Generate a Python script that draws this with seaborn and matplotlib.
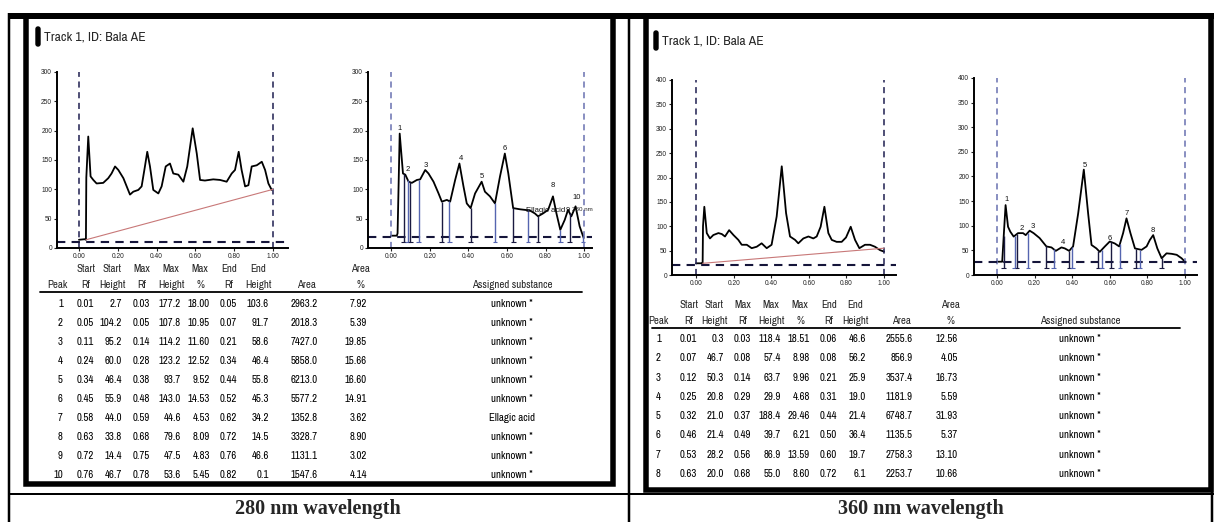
import numpy as np
import pandas as pd
import matplotlib
matplotlib.use("Agg")
import matplotlib.pyplot as plt
import matplotlib.font_manager as fm
from matplotlib.patches import Rectangle, FancyBboxPatch
import seaborn as sns

W, H = 1214, 522

# ---------------- 280 nm scans
rf_280_raw = [0.00, 0.03, 0.036, 0.038, 0.048, 0.06, 0.074, 0.091, 0.125, 0.151, 0.168, 0.186,
              0.203, 0.229, 0.246, 0.263, 0.280, 0.306, 0.323, 0.340, 0.352, 0.366, 0.383,
              0.409, 0.426, 0.447, 0.469, 0.486, 0.512, 0.538, 0.558, 0.586, 0.607, 0.624,
              0.649, 0.692, 0.727, 0.761, 0.787, 0.804, 0.823, 0.838, 0.856, 0.873, 0.890,
              0.916, 0.942, 0.959, 0.976, 0.993]
h_280_raw = [14, 15, 14, 120, 190, 122, 116, 110, 111, 119, 127, 139,
             133, 119, 105, 91, 96, 99, 105, 139, 164, 139, 99,
             93, 105, 139, 144, 127, 125, 113, 139, 204, 161, 116,
             115, 117, 116, 113, 127, 133, 164, 133, 105, 107, 139,
             141, 147, 133, 110, 99]

rf_280 = [0.00, 0.030, 0.034, 0.045, 0.062, 0.074, 0.091, 0.108, 0.134, 0.151, 0.177, 0.194,
          0.220, 0.246, 0.263, 0.289, 0.306, 0.332, 0.354, 0.375, 0.392, 0.412, 0.435,
          0.469, 0.486, 0.512, 0.538, 0.564, 0.589, 0.607, 0.632, 0.667, 0.718, 0.744,
          0.761, 0.787, 0.813, 0.838, 0.856, 0.876, 0.899, 0.916, 0.933, 0.955, 0.976, 0.997]
h_280 = [21, 21, 25, 195, 127, 125, 113, 111, 116, 117, 133, 127,
         113, 93, 79, 82, 79, 116, 144, 105, 76, 68, 93,
         113, 96, 88, 76, 122, 161, 127, 68, 66, 64, 59,
         54, 59, 65, 88, 59, 31, 48, 65, 54, 71, 37, 17]
drops_280 = [0.065, 0.086, 0.10, 0.143, 0.263, 0.302, 0.412, 0.538, 0.632, 0.709, 0.761,
             0.876, 0.924, 0.993]
labels_280 = ["1", "2", "3", "4", "5", "6", "Ellagic acid", "8", "9", "10"]
label_rf_280 = [0.045, 0.085, 0.18, 0.36, 0.47, 0.59, 0.80, 0.835, 0.915, 0.96]
label_h_280 = [198, 128, 135, 146, 116, 164, 58, 100, 58, 80]

# ---------------- 360 nm scans
rf_360_raw = [0.00, 0.030, 0.035, 0.037, 0.044, 0.057, 0.074, 0.092, 0.119, 0.137, 0.154,
              0.176, 0.199, 0.225, 0.243, 0.270, 0.296, 0.323, 0.349, 0.376, 0.402, 0.429,
              0.456, 0.479, 0.500, 0.527, 0.544, 0.571, 0.598, 0.624, 0.642, 0.663, 0.683,
              0.704, 0.722, 0.748, 0.775, 0.798, 0.823, 0.846, 0.869, 0.899, 0.926, 0.952,
              0.979, 1.00]
h_360_raw = [24, 24, 24, 100, 140, 86, 75, 82, 86, 84, 79,
             92, 82, 72, 62, 62, 55, 58, 65, 55, 62, 120,
             223, 127, 79, 72, 65, 75, 79, 75, 79, 99, 140,
             86, 72, 68, 68, 77, 99, 72, 55, 62, 62, 58,
             51, 48]

rf_360 = [0.00, 0.028, 0.037, 0.046, 0.059, 0.071, 0.089, 0.112, 0.139, 0.153, 0.174, 0.195,
          0.227, 0.263, 0.290, 0.313, 0.343, 0.361, 0.384, 0.405, 0.432, 0.462, 0.485,
          0.503, 0.529, 0.547, 0.574, 0.600, 0.627, 0.650, 0.671, 0.689, 0.710, 0.734,
          0.769, 0.796, 0.813, 0.831, 0.853, 0.876, 0.902, 0.929, 0.956, 0.982, 1.00]
h_360 = [27, 27, 85, 142, 98, 88, 78, 85, 85, 81, 90, 85,
         75, 58, 56, 49, 56, 54, 49, 58, 125, 214, 125,
         61, 54, 47, 58, 68, 64, 58, 85, 115, 85, 54,
         51, 58, 71, 81, 54, 34, 44, 43, 41, 34, 27]
drops_360 = [0.036, 0.094, 0.107, 0.165, 0.263, 0.302, 0.384, 0.401, 0.540, 0.558, 0.609,
             0.654, 0.739, 0.760, 0.876]
labels_360 = ["1", "2", "3", "4", "5", "6", "7", "8"]
label_rf_360 = [0.05, 0.13, 0.19, 0.35, 0.465, 0.60, 0.69, 0.83]
label_h_360 = [146, 88, 92, 58, 216, 68, 118, 84]

# ---------------- peak tables
peak_280 = list(range(1, 11))
start_rf_280 = [0.01, 0.05, 0.11, 0.24, 0.34, 0.45, 0.58, 0.63, 0.72, 0.76]
start_h_280 = [2.7, 104.2, 95.2, 60.0, 46.4, 55.9, 44.0, 33.8, 14.4, 46.7]
max_rf_280 = [0.03, 0.05, 0.14, 0.28, 0.38, 0.48, 0.59, 0.68, 0.75, 0.78]
max_h_280 = [177.2, 107.8, 114.2, 123.2, 93.7, 143.0, 44.6, 79.6, 47.5, 53.6]
max_pct_280 = [18.00, 10.95, 11.60, 12.52, 9.52, 14.53, 4.53, 8.09, 4.83, 5.45]
end_rf_280 = [0.05, 0.07, 0.21, 0.34, 0.44, 0.52, 0.62, 0.72, 0.76, 0.82]
end_h_280 = [103.6, 91.7, 58.6, 46.4, 55.8, 45.3, 34.2, 14.5, 46.6, 0.1]
area_280 = [2963.2, 2018.3, 7427.0, 5858.0, 6213.0, 5577.2, 1352.8, 3328.7, 1131.1, 1547.6]
area_pct_280 = [7.92, 5.39, 19.85, 15.66, 16.60, 14.91, 3.62, 8.90, 3.02, 4.14]
subst_280 = ["unknown *"] * 6 + ["Ellagic acid"] + ["unknown *"] * 3

peak_360 = list(range(1, 9))
start_rf_360 = [0.01, 0.07, 0.12, 0.25, 0.32, 0.46, 0.53, 0.63]
start_h_360 = [0.3, 46.7, 50.3, 20.8, 21.0, 21.4, 28.2, 20.0]
max_rf_360 = [0.03, 0.08, 0.14, 0.29, 0.37, 0.49, 0.56, 0.68]
max_h_360 = [118.4, 57.4, 63.7, 29.9, 188.4, 39.7, 86.9, 55.0]
max_pct_360 = [18.51, 8.98, 9.96, 4.68, 29.46, 6.21, 13.59, 8.60]
end_rf_360 = [0.06, 0.08, 0.21, 0.31, 0.44, 0.50, 0.60, 0.72]
end_h_360 = [46.6, 56.2, 25.9, 19.0, 21.4, 36.4, 19.7, 6.1]
area_360 = [2555.6, 856.9, 3537.4, 1181.9, 6748.7, 1135.5, 2758.3, 2253.7]
area_pct_360 = [12.56, 4.05, 16.73, 5.59, 31.93, 5.37, 13.10, 10.66]
subst_360 = ["unknown *"] * 8

head1 = ["", "Start", "Start", "Max", "Max", "Max", "End", "End", "", "Area", ""]
head2 = ["Peak", "Rf", "Height", "Rf", "Height", "%", "Rf", "Height", "Area", "%",
         "Assigned substance"]
fmts = ["{:d}", "{:.2f}", "{:.1f}", "{:.2f}", "{:.1f}", "{:.2f}", "{:.2f}", "{:.1f}",
        "{:.1f}", "{:.2f}", "{}"]

sns.set_theme(style="white")
plt.rcParams["font.family"] = ["Liberation Sans", "DejaVu Sans"]

# the scanner report uses a narrow sans; take one if the system has it
narrow_path = None
for f in fm.fontManager.ttflist:
    if (("Narrow" in f.name or "Condensed" in f.name) and "Mono" not in f.name
            and "Serif" not in f.name and f.style == "normal"
            and f.weight in (400, "normal", "regular", "book")):
        narrow_path = f.fname
        break
if narrow_path:
    tab_fp = fm.FontProperties(fname=narrow_path, size=7.8)
    title_fp = fm.FontProperties(fname=narrow_path, size=9.8)
else:
    tab_fp = fm.FontProperties(family="Liberation Sans", size=6.3)
    title_fp = fm.FontProperties(family="Liberation Sans", size=8)

fig = plt.figure(figsize=(W / 100, H / 100), dpi=100)
bg = fig.add_axes([0, 0, 1, 1])
bg.set_xlim(0, W)
bg.set_ylim(H, 0)
bg.axis("off")


def px_axes(x0, y0, x1, y1):
    return fig.add_axes([x0 / W, 1 - y1 / H, (x1 - x0) / W, (y1 - y0) / H])


def lw(px):
    return px * 0.72


def draw_scan(box, rf, h, ymax, x0, x1, hline, base=None, drops=None, floor=None,
              labels=None, vcolor="#2a2a60"):
    ax = px_axes(*box)
    sns.lineplot(x=rf, y=h, ax=ax, color="black", linewidth=1.3, sort=False, estimator=None)
    ax.vlines([0, 1], 0, ymax, colors=vcolor, linestyles=(0, (4, 3)), lw=1.1)
    ax.axhline(hline, color="#15153a", ls=(0, (4, 3)), lw=1.5)
    if base is not None:
        ax.plot(base[0], base[1], color="#c87878", lw=0.8)
    if drops is not None:
        tops = np.interp(drops, rf, h)
        cols = ["#1a1a40" if i % 2 == 0 else "#5565b0" for i in range(len(drops))]
        ax.vlines(drops, floor, tops, colors=cols, lw=1.0)
        ax.scatter(drops, [floor] * len(drops), marker="_", s=12, c=cols, lw=0.8)
    if labels is not None:
        for s, lx, ly in zip(*labels):
            ax.text(lx, ly, s, ha="center", va="bottom", fontsize=5.5, color="#111")
    ax.set_xlim(x0, x1)
    ax.set_ylim(0, ymax)
    ax.set_xticks(np.arange(0, 1.01, 0.2))
    ax.set_xticklabels([f"{t:.2f}" for t in np.arange(0, 1.01, 0.2)])
    ax.set_yticks(np.arange(0, ymax + 1, 50))
    ax.tick_params(labelsize=4.8, length=2, width=0.8, pad=1.5, colors="#222",
                   left=True, bottom=True)
    ax.set_xlabel("")
    ax.set_ylabel("")
    sns.despine(ax=ax)
    for side in ["left", "bottom"]:
        ax.spines[side].set_linewidth(1.4)
        ax.spines[side].set_color("black")
    ax.patch.set_alpha(0)
    return ax


def draw_table(df, hx, vx, y_h1, dy, y_row0, line_x):
    for i, c in enumerate(df.columns):
        bg.text(hx[i], y_h1, head1[i], ha="center", va="center", fontproperties=tab_fp)
        bg.text(hx[i], y_h1 + 16, head2[i], ha="center", va="center", fontproperties=tab_fp)
        for r, v in enumerate(df[c]):
            ha = "center" if i == len(df.columns) - 1 else "right"
            bg.text(vx[i], y_row0 + r * dy, fmts[i].format(v), ha=ha, va="center",
                    fontproperties=tab_fp, color="black")
    bg.plot(line_x, [y_h1 + 23] * 2, color="black", lw=lw(1.8))


# ---- outer table and panel frames
bg.plot([8, W], [16, 16], color="black", lw=lw(6), solid_capstyle="butt")
for x in [8.5, 628.5, 1212]:
    bg.plot([x, x], [13, H], color="black", lw=lw(2.5), solid_capstyle="butt")
bg.plot([8, W], [494, 494], color="black", lw=lw(2), solid_capstyle="butt")
bg.add_patch(Rectangle((25.5, 16), 587, 467.5, fill=False, lw=lw(5.5), ec="black",
                       joinstyle="miter"))
bg.add_patch(Rectangle((645.5, 16), 565, 474, fill=False, lw=lw(5.5), ec="black",
                       joinstyle="miter"))

bg.text(318, 509, "280 nm wavelength", ha="center", va="center", fontsize=14.5,
        family="Liberation Serif", weight="bold")
bg.text(921, 509, "360 nm wavelength", ha="center", va="center", fontsize=14.5,
        family="Liberation Serif", weight="bold")

# ---- track titles
for mx, my in [(36, 27), (654, 31)]:
    bg.add_patch(FancyBboxPatch((mx, my), 4, 19, boxstyle="round,pad=0,rounding_size=2",
                                fc="black", ec="black"))
    bg.text(mx + 8, my + 10, "Track 1, ID: Bala AE", ha="left", va="center",
            fontproperties=title_fp)

# ---- chromatograms
draw_scan((57, 72, 288, 248), rf_280_raw, h_280_raw, 300, -0.113, 1.077, 10,
          base=([0.036, 1.0], [14, 100]), vcolor="#1e1e50")
ax2 = draw_scan((368, 72, 592, 248), rf_280, h_280, 300, -0.119, 1.04, 19,
                drops=drops_280, floor=10, labels=(labels_280, label_rf_280, label_h_280),
                vcolor="#6870b0")
ax2.text(0.99, 62, "280 nm", ha="center", va="bottom", fontsize=4.5)
draw_scan((672, 80, 896, 275), rf_360_raw, h_360_raw, 400, -0.128, 1.064, 20,
          base=([0.035, 1.0], [24, 55]), vcolor="#1e1e50")
draw_scan((974, 78, 1197, 275), rf_360, h_360, 400, -0.122, 1.064, 27,
          drops=drops_360, floor=14, labels=(labels_360, label_rf_360, label_h_360),
          vcolor="#6870b0")

# ---- peak tables
tab_280 = pd.DataFrame({"peak": peak_280, "srf": start_rf_280, "sh": start_h_280,
                        "mrf": max_rf_280, "mh": max_h_280, "mp": max_pct_280,
                        "erf": end_rf_280, "eh": end_h_280, "area": area_280,
                        "ap": area_pct_280, "sub": subst_280})
tab_360 = pd.DataFrame({"peak": peak_360, "srf": start_rf_360, "sh": start_h_360,
                        "mrf": max_rf_360, "mh": max_h_360, "mp": max_pct_360,
                        "erf": end_rf_360, "eh": end_h_360, "area": area_360,
                        "ap": area_pct_360, "sub": subst_360})

draw_table(tab_280,
           [57, 86, 112, 142, 171, 200, 229, 258, 306, 360, 512],
           [63, 94, 122, 150, 181, 210, 237, 269, 318, 367, 512],
           269, 19.0, 304, [40, 582])
draw_table(tab_360,
           [658, 689, 714, 743, 771, 800, 829, 855, 901, 950, 1080],
           [661, 697, 724, 751, 781, 810, 837, 866, 913, 958, 1080],
           305, 19.3, 339, [652, 1180])

fig.savefig("out.png", dpi=100)
